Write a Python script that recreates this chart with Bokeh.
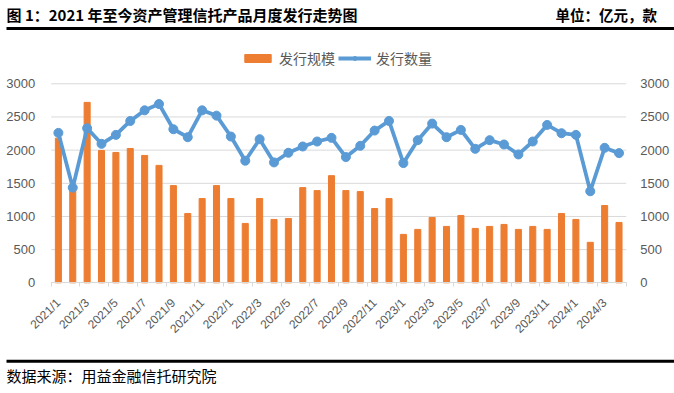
import math
from bokeh.plotting import figure
from bokeh.models import (Range1d, LinearAxis, FixedTicker, Legend, LegendItem,
                          Label, BoxAnnotation, ColumnDataSource)
from bokeh.embed import file_html
from bokeh.resources import INLINE

months = ["2021/1", "2021/2", "2021/3", "2021/4", "2021/5", "2021/6", "2021/7", "2021/8",
          "2021/9", "2021/10", "2021/11", "2021/12",
          "2022/1", "2022/2", "2022/3", "2022/4", "2022/5", "2022/6", "2022/7", "2022/8",
          "2022/9", "2022/10", "2022/11", "2022/12",
          "2023/1", "2023/2", "2023/3", "2023/4", "2023/5", "2023/6", "2023/7", "2023/8",
          "2023/9", "2023/10", "2023/11", "2023/12",
          "2024/1", "2024/2", "2024/3", "2024/4"]
scale = [2180, 1430, 2720, 1995, 1965, 2025, 1920, 1770, 1465, 1045, 1270, 1465,
         1270, 895, 1270, 955, 970, 1435, 1390, 1615, 1390, 1375, 1120, 1270,
         730, 805, 985, 850, 1015, 820, 850, 880, 805, 850, 805, 1045,
         955, 610, 1165, 910]
count = [2260, 1435, 2330, 2095, 2230, 2440, 2600, 2695, 2315, 2195, 2600, 2520,
         2205, 1840, 2165, 1815, 1960, 2055, 2130, 2185, 1895, 2065, 2295, 2440,
         1805, 2150, 2400, 2195, 2305, 2020, 2150, 2085, 1935, 2130, 2380, 2255,
         2230, 1380, 2035, 1955]
y_ticks = [0, 500, 1000, 1500, 2000, 2500, 3000]

title_text = "图 1：2021 年至今资产管理信托产品月度发行走势图"
unit_text = "单位：亿元，款"
source_text = "数据来源：用益金融信托研究院"
series_names = ["发行规模", "发行数量"]

CJK = "Noto Sans CJK SC"
LAT = "Liberation Sans"
GRAY = "#595959"
ORANGE = "#ED7D31"
BLUE = "#5B9BD5"
GRID = "#D9D9D9"

# canvas / plot-area geometry (pixels)
W, H = 674, 393
PL, PR, PT, PB = 50.7, 625.7, 83.3, 282.3

n = len(months)
ymax = y_ticks[-1]
kx = (PR - PL) / n
ky = (PB - PT) / ymax
x_rng = Range1d(-0.5 - PL / kx, n - 0.5 + (W - PR) / kx)
y_rng = Range1d(-(H - PB) / ky, ymax + PT / ky)

xs = list(range(n))
src = ColumnDataSource(dict(x=xs, scale=scale, count=count))

p = figure(width=W, height=H, output_backend="svg", toolbar_location=None,
           x_range=x_rng, y_range=y_rng, x_axis_location=None, y_axis_location=None,
           min_border=0, min_border_left=0, min_border_right=0,
           min_border_top=0, min_border_bottom=0, outline_line_color=None,
           background_fill_color="white", border_fill_color="white")
p.xgrid.visible = False
p.ygrid.visible = False

# horizontal gridlines across the plot area
gy = y_ticks[1:]
p.segment(x0=[-0.5] * len(gy), x1=[n - 0.5] * len(gy), y0=gy, y1=gy,
          line_color=GRID, line_width=1)

bars = p.vbar(x="x", top="scale", width=0.42, source=src, color=ORANGE)
ln = p.line(x="x", y="count", source=src, color=BLUE, line_width=3.8)
pts = p.scatter(x="x", y="count", source=src, size=9, color=BLUE)

# x axis
xa = LinearAxis(fixed_location=0, bounds=(-0.5, n - 0.5))
xa.ticker = FixedTicker(ticks=xs[::2], minor_ticks=[i - 0.5 for i in range(0, n + 1, 2)])
xa.major_label_overrides = {i: months[i] for i in xs[::2]}
xa.major_label_orientation = math.pi / 4
xa.major_tick_out = 0
xa.major_tick_in = 0
xa.minor_tick_out = 4
xa.minor_tick_in = 0
xa.minor_tick_line_color = GRID
xa.axis_line_color = GRID
xa.major_label_text_font = LAT
xa.major_label_text_font_size = "12px"
xa.major_label_text_color = GRAY
xa.major_label_standoff = 14
p.add_layout(xa, "below")

for side, loc, standoff in (("left", -0.5, 10), ("right", n - 0.5, 8)):
    ax = LinearAxis(fixed_location=loc, bounds=(0, ymax), ticker=FixedTicker(ticks=y_ticks))
    ax.axis_line_color = None
    ax.major_tick_line_color = None
    ax.minor_tick_line_color = None
    ax.major_label_text_font = LAT
    ax.major_label_text_font_size = "13px"
    ax.major_label_text_color = GRAY
    ax.major_label_standoff = standoff
    p.add_layout(ax, side)

legend = Legend(items=[LegendItem(label=series_names[0], renderers=[bars]),
                       LegendItem(label=series_names[1], renderers=[ln, pts])],
                orientation="horizontal", location=(241, H - 68),
                border_line_color=None, background_fill_alpha=0,
                padding=0, margin=0, spacing=3, label_standoff=5,
                glyph_width=33, glyph_height=10, label_height=16,
                label_text_font=CJK, label_text_font_size="14px",
                label_text_color=GRAY)
p.add_layout(legend, "center")

# header / footer (screen units: x from left, y from bottom of canvas)
def box(x0, x1, y_top, y_bot):
    p.add_layout(BoxAnnotation(left=x0, right=x1, top=H - y_top, bottom=H - y_bot,
                               left_units="screen", right_units="screen",
                               top_units="screen", bottom_units="screen",
                               fill_color="black", fill_alpha=1, line_color=None))

p.add_layout(Label(x=6, y=H - 14, x_units="screen", y_units="screen", text=title_text,
                   text_font=CJK, text_font_size="15px", text_font_style="bold",
                   text_color="black", text_baseline="middle"))
p.add_layout(Label(x=555, y=H - 13.5, x_units="screen", y_units="screen", text=unit_text,
                   text_font=CJK, text_font_size="14.5px", text_font_style="bold",
                   text_color="black", text_baseline="middle"))
box(6, W, 26.5, 29.5)
box(6, W, 359.3, 362.3)
p.add_layout(Label(x=6, y=H - 375, x_units="screen", y_units="screen", text=source_text,
                   text_font=CJK, text_font_size="15px",
                   text_color="black", text_baseline="middle"))

open("out.html", "w").write(file_html(p, INLINE))
